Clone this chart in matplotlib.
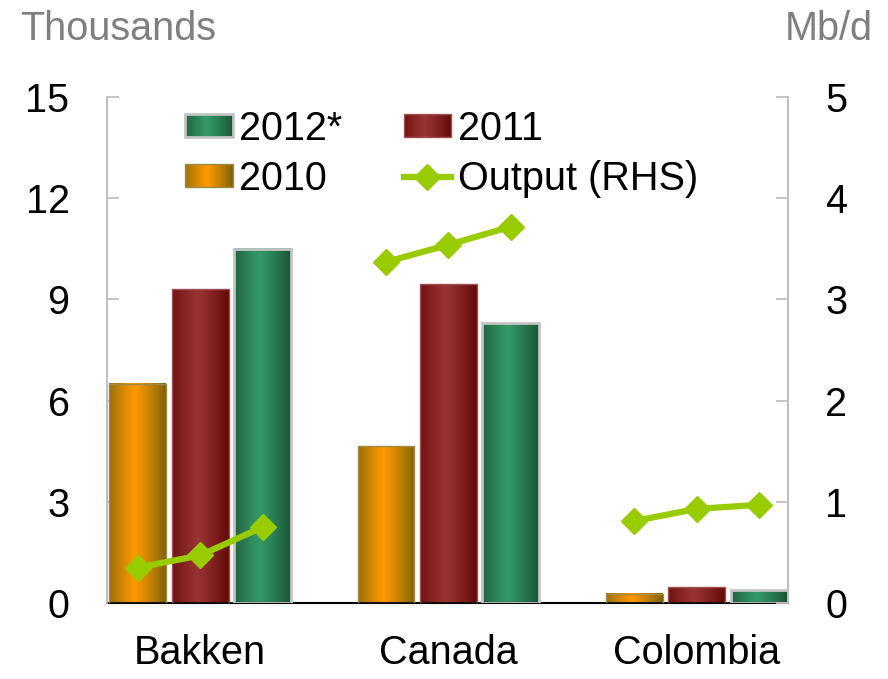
import numpy as np
import matplotlib
matplotlib.use('Agg')
import matplotlib.pyplot as plt
from matplotlib.patches import Patch, Rectangle
from matplotlib.lines import Line2D
from matplotlib.legend_handler import HandlerBase
from matplotlib.colors import to_rgb

plt.rcParams['font.family'] = ['Liberation Sans', 'DejaVu Sans']

# datos
countries = ['Bakken', 'Canada', 'Colombia']
y2010 = [6.5, 4.65, 0.27]
y2011 = [9.3, 9.45, 0.47]
y2012 = [10.5, 8.3, 0.38]
# produccion (eje derecho), un tramo por pais
out_bakken = [0.35, 0.47, 0.75]
out_canada = [3.37, 3.54, 3.72]
out_colombia = [0.81, 0.93, 0.97]
outputs = [out_bakken, out_canada, out_colombia]

# colores: (borde del degradado, centro, linea del borde)
c2010 = ('#76600a', '#ff9900', '#a08a4a')
c2011 = ('#600606', '#9a3434', '#a05050')
c2012 = ('#185034', '#349a68', '#c4c4c4')
line_col = '#99cc00'
fs = 28.5


def grad_col(t, c):
    a = np.array(to_rgb(c[0]))
    b = np.array(to_rgb(c[1]))
    f = max(0.0, 1 - abs((t - 0.45) / 0.55)) ** 0.8
    return a + (b - a) * f


def grad_img(c, n=64):
    ts = (np.arange(n) + 0.5) / n
    return np.array([[grad_col(t, c) for t in ts]])


class GradHandler(HandlerBase):
    def __init__(self, c, lw):
        super().__init__()
        self.c = c
        self.lw = lw

    def create_artists(self, legend, orig_handle, xdescent, ydescent,
                       width, height, fontsize, trans):
        arts = []
        n = 30
        for i in range(n):
            t = (i + 0.5) / n
            r = Rectangle((-xdescent + i * width / n, -ydescent), width / n * 1.1, height,
                          facecolor=grad_col(t, self.c), edgecolor='none', transform=trans)
            arts.append(r)
        arts.append(Rectangle((-xdescent, -ydescent), width, height, facecolor='none',
                              edgecolor=self.c[2], lw=self.lw, transform=trans))
        return arts


fig = plt.figure(figsize=(8.88, 6.79), dpi=100)
ax = fig.add_axes([0.1205, 0.112, 0.7665, 0.745])
ax2 = ax.twinx()

x = np.arange(len(countries))
w = 0.229
off = 0.2515
series = [(y2010, c2010, -off, 1.0), (y2011, c2011, 0, 1.0), (y2012, c2012, off, 2.0)]
for vals, c, dx, lw in series:
    img = grad_img(c)
    for xi, v in zip(x, vals):
        ax.imshow(img, extent=[xi + dx - w / 2, xi + dx + w / 2, 0, v],
                  aspect='auto', zorder=2, interpolation='bilinear')
    ax.bar(x + dx, vals, w, facecolor='none', edgecolor=c[2], linewidth=lw, zorder=3)

for xi, o in zip(x, outputs):
    ax2.plot(xi + np.array([-off, 0, off]), o, color=line_col, lw=4.5,
             marker='D', markersize=13.5, zorder=4)

ax.set_xlim(-0.375, 2.366)
ax.set_ylim(0, 15)
ax2.set_ylim(0, 5)
ax.set_yticks([0, 3, 6, 9, 12, 15])
ax2.set_yticks([0, 1, 2, 3, 4, 5])
ax.set_xticks(x)
ax.set_xticklabels(countries)

for a in (ax, ax2):
    a.spines['top'].set_visible(False)
    a.spines['left'].set_color('#bfbfbf')
    a.spines['right'].set_color('#bfbfbf')
    a.spines['left'].set_linewidth(1.3)
    a.spines['right'].set_linewidth(1.3)
    a.spines['bottom'].set_color('black')
    a.spines['bottom'].set_linewidth(1.5)
    a.tick_params(axis='y', direction='in', length=8.5, width=1.3, color='#bfbfbf',
                  labelsize=fs, pad=27)
ax.tick_params(axis='x', length=0, labelsize=fs, pad=22)
ax2.spines['bottom'].set_visible(False)

fig.text(0.0225, 0.941, 'Thousands', color='#7f7f7f', fontsize=fs, va='baseline', ha='left')
fig.text(0.983, 0.941, 'Mb/d', color='#7f7f7f', fontsize=fs, va='baseline', ha='right')

h12 = Patch(label='2012*')
h11 = Patch(label='2011')
h10 = Patch(label='2010')
hout = Line2D([], [], color=line_col, lw=4.5, marker='D', markersize=13.5, label='Output (RHS)')
ax2.legend(handles=[h12, h10, h11, hout], ncol=2, loc='upper left',
           bbox_to_anchor=(0.115, 0.975), frameon=False, fontsize=fs,
           borderpad=0, borderaxespad=0, handlelength=1.2, handleheight=0.52,
           handletextpad=0.16, columnspacing=1.55, labelspacing=0.3,
           handler_map={h12: GradHandler(c2012, 2.0), h11: GradHandler(c2011, 1.0),
                        h10: GradHandler(c2010, 1.0)})

plt.savefig('out.png', dpi=100)
